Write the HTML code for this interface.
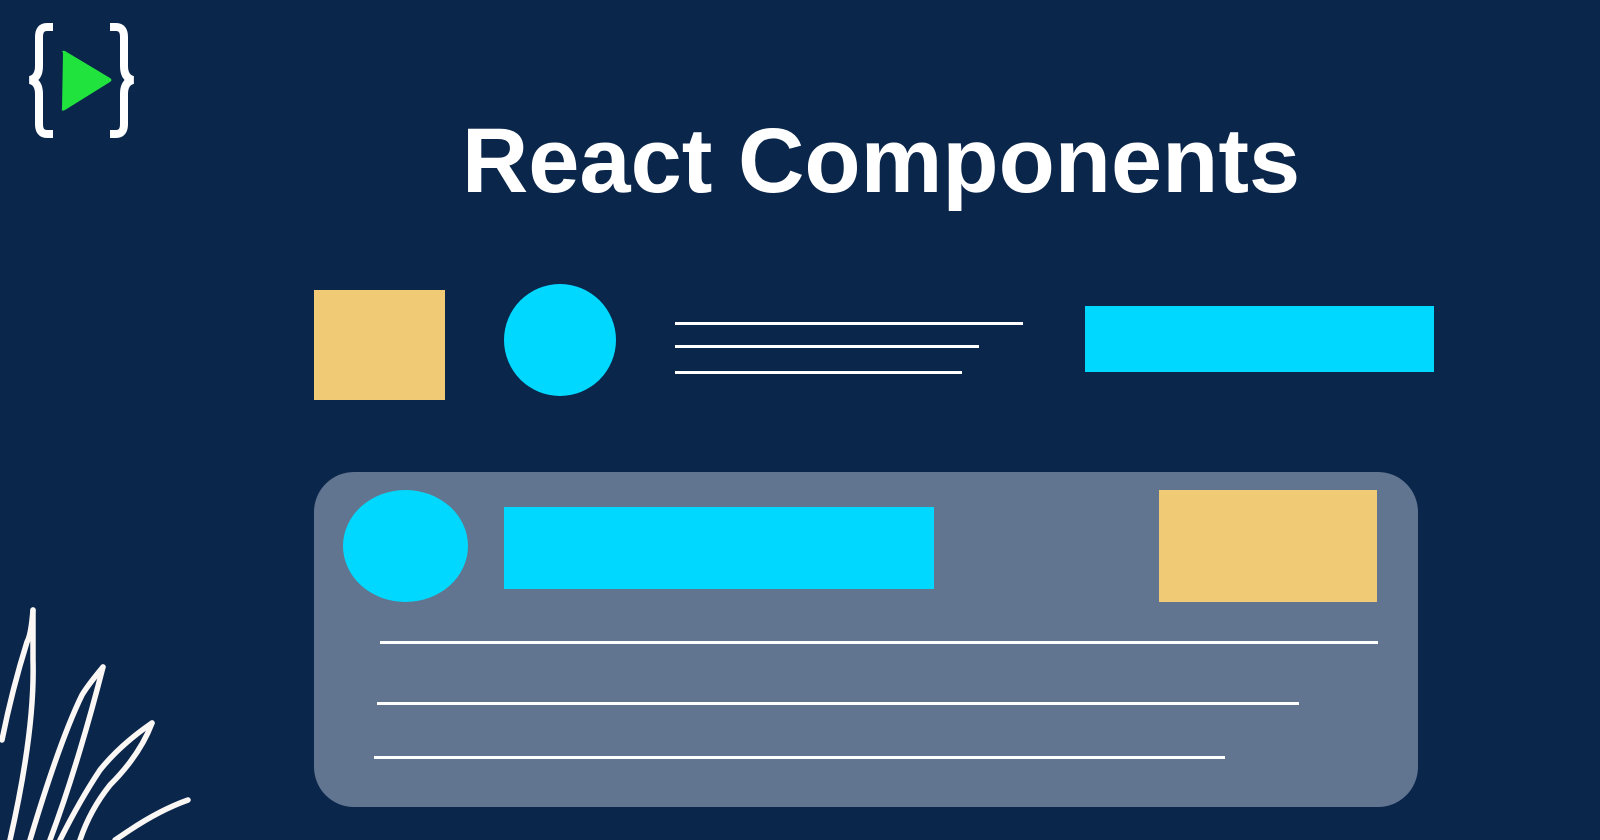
<!DOCTYPE html>
<html><head><meta charset="utf-8"><style>
html,body{margin:0;padding:0}
body{width:1600px;height:840px;background:#0b264b;position:relative;overflow:hidden;font-family:"Liberation Sans",sans-serif}
.a{position:absolute}
.t{left:0;width:1762px;text-align:center;top:106px;font-size:92px;font-weight:bold;color:#fff;line-height:110px}
.y{background:#f0ca74}.c{background:#00d8ff}.l{background:#fff;height:3px}
</style></head><body>
<svg class="a" style="left:0;top:0" width="200" height="160" viewBox="0 0 200 160">
<path d="M53 27 H47 Q39 27 39 37 V66 Q39 78 30 80 Q39 82 39 94 V124 Q39 134 47 134 H53" fill="none" stroke="#fff" stroke-width="8"/>
<path d="M110 27 H116 Q124 27 124 37 V66 Q124 78 133 80 Q124 82 124 94 V124 Q124 134 116 134 H110" fill="none" stroke="#fff" stroke-width="8"/>
<path d="M63 53 Q61 50 65 51 L110 78 Q113 80 110 82 L65 110 Q61 112 62 108 Z" fill="#20e33d"/>
</svg>
<div class="a t">React Components</div>
<div class="a y" style="left:314px;top:290px;width:131px;height:110px"></div>
<div class="a c" style="left:504px;top:284px;width:112px;height:112px;border-radius:50%"></div>
<div class="a l" style="left:675px;top:322px;width:348px"></div>
<div class="a l" style="left:675px;top:345px;width:304px"></div>
<div class="a l" style="left:675px;top:371px;width:287px"></div>
<div class="a c" style="left:1085px;top:306px;width:349px;height:66px"></div>
<div class="a" style="left:314px;top:472px;width:1104px;height:335px;border-radius:40px;background:#627590"></div>
<div class="a c" style="left:343px;top:490px;width:125px;height:112px;border-radius:50%"></div>
<div class="a c" style="left:504px;top:507px;width:430px;height:82px"></div>
<div class="a y" style="left:1159px;top:490px;width:218px;height:112px"></div>
<div class="a l" style="left:380px;top:641px;width:998px"></div>
<div class="a l" style="left:377px;top:702px;width:922px"></div>
<div class="a l" style="left:374px;top:756px;width:851px"></div>
<svg class="a" style="left:0;top:580px" width="220" height="260" viewBox="0 0 220 260" fill="none" stroke="#faf7f5" stroke-width="5.5" stroke-linecap="round">
<path d="M33 30 Q31 55 27 62 Q12 110 2 160"/>
<path d="M33 30 Q33 60 33 80 Q35 150 10 260"/>
<path d="M103 87 Q88 105 82 115 Q60 160 30 260"/>
<path d="M103 87 Q92 130 80 170 Q65 220 50 260"/>
<path d="M152 143 Q120 165 100 190 Q80 220 60 260"/>
<path d="M152 143 Q140 175 110 205 Q90 230 80 260"/>
<path d="M188 220 Q160 230 130 250 L115 260"/>
</svg>
</body></html>
